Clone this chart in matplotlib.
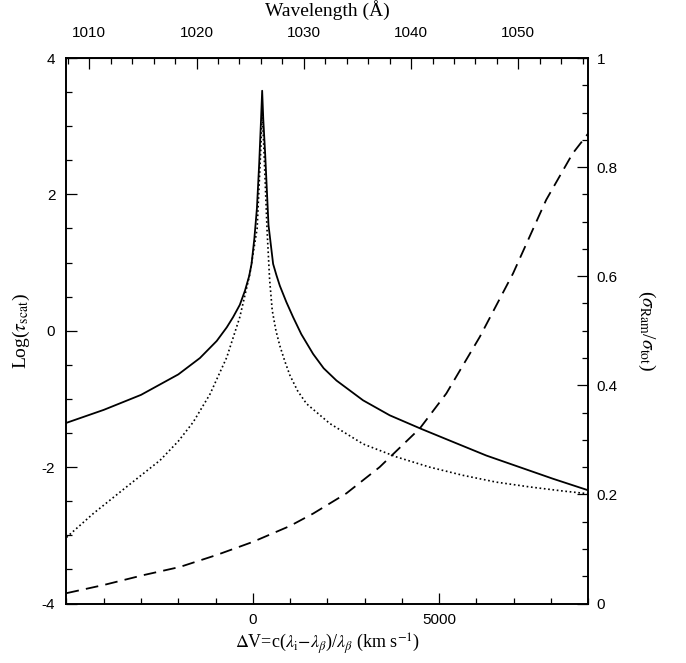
import matplotlib
matplotlib.use("Agg")
import matplotlib.pyplot as plt
import numpy as np
from matplotlib.ticker import MultipleLocator, FixedLocator

plt.rcParams['mathtext.fontset'] = 'stix'

# velocity offset (km/s) and Log(tau_scat) for the solid curve
v_solid = [-5000, -4000, -3000, -2000, -1420, -970, -700, -530, -350,
           -210, -100, -35, 40, 110, 170, 220, 250, 280, 330, 420, 544, 630, 724,
           900, 1080, 1300, 1617, 1900, 2244, 2957, 3673, 4523, 5370, 6265, 7158,
           8051, 9000]
tau_solid = [-1.35, -1.16, -0.94, -0.64, -0.40, -0.15, 0.05, 0.20, 0.38,
             0.59, 0.80, 0.98, 1.35, 1.80, 2.45, 3.10, 3.52, 3.10, 2.60, 1.55, 0.98, 0.82, 0.66,
             0.42, 0.20, -0.05, -0.34, -0.55, -0.73, -1.02, -1.24, -1.44, -1.63, -1.83, -2.00,
             -2.17, -2.34]

# dotted curve
v_dot = [-5000, -4280, -3390, -2490, -2000, -1600, -1150, -700, -350, -80, 115,
         215, 250, 295, 383, 450, 520, 620, 724, 860, 992, 1200, 1440, 2064,
         2957, 3853, 4745, 5638, 6533, 7426, 8319, 9000]
tau_dot = [-3.03, -2.68, -2.29, -1.90, -1.62, -1.34, -0.93, -0.39, 0.20, 0.83, 1.50,
           2.68, 3.20, 2.68, 1.46, 0.75, 0.30, 0.00, -0.22, -0.45, -0.65, -0.88, -1.07, -1.36,
           -1.66, -1.85, -2.00, -2.12, -2.22, -2.29, -2.35, -2.39]

# dashed curve: sigma_Ram / sigma_tot (right axis)
v_ratio = [-5000, -4000, -2940, -1960, -970, 0, 990, 1620, 2510, 3400, 4480,
           5190, 6090, 6980, 7870, 8580, 9000]
ratio = [0.019, 0.034, 0.052, 0.067, 0.089, 0.113, 0.142, 0.165, 0.202, 0.250, 0.321,
         0.385, 0.489, 0.605, 0.740, 0.825, 0.862]

lam0 = 1025.25
dlam = 0.003475  # Angstrom per km/s


def v2lam(v):
    return lam0 + dlam * np.asarray(v)


def lam2v(lam):
    return (np.asarray(lam) - lam0) / dlam


fig = plt.figure(figsize=(6.86, 6.63), dpi=100)
ax = fig.add_axes([0.0969, 0.0897, 0.7607, 0.8228])

ax.plot(v_solid, tau_solid, color='black', lw=1.3)
ax.plot(v_dot, tau_dot, color='black', lw=1.2, linestyle=(0, (1, 1.6)))
ax.set_xlim(-5000, 9000)
ax.set_ylim(-4, 4)

ax2 = ax.twinx()
ax2.plot(v_ratio, ratio, color='black', lw=1.3, linestyle=(0, (7, 4)))
ax2.set_ylim(0, 1)

tick_font = dict(family='Liberation Sans', size=11)
label_font = dict(family='Liberation Serif', size=14)

ax.xaxis.set_major_locator(FixedLocator([0, 5000]))
ax.xaxis.set_minor_locator(MultipleLocator(1000))
ax.yaxis.set_major_locator(MultipleLocator(2))
ax.yaxis.set_minor_locator(MultipleLocator(0.5))
ax2.yaxis.set_minor_locator(MultipleLocator(0.05))
ax2.set_yticks([0, 0.2, 0.4, 0.6, 0.8, 1.0])
ax2.set_yticklabels(['0', '0.2', '0.4', '0.6', '0.8', '1'], **tick_font)

ax.set_xticklabels(['0', '5000'], **tick_font)
ax.set_yticks([-4, -2, 0, 2, 4])
ax.set_yticklabels(['-4', '-2', '0', '2', '4'], **tick_font)

ax.tick_params(axis='both', which='major', direction='in', length=8, width=0.9)
ax.tick_params(axis='both', which='minor', direction='in', length=4, width=0.9)
ax.tick_params(axis='x', pad=7)
ax.tick_params(axis='y', pad=8, left=True, right=False)
ax2.tick_params(axis='y', which='major', direction='in', length=8, width=0.9, pad=6)
ax2.tick_params(axis='y', which='minor', direction='in', length=4, width=0.9)

top = ax.secondary_xaxis('top', functions=(v2lam, lam2v))
top.xaxis.set_minor_locator(MultipleLocator(2))
top.set_xticks([1010, 1020, 1030, 1040, 1050])
top.set_xticklabels(['1010', '1020', '1030', '1040', '1050'], **tick_font)
top.tick_params(which='major', direction='in', length=8, width=0.9, pad=13)
top.tick_params(which='minor', direction='in', length=4, width=0.9)
top.set_xlabel('Wavelength (Å)', labelpad=7, **label_font)

for a in (ax, ax2):
    for s in a.spines.values():
        s.set_linewidth(1.2)

ax.set_xlabel(r'$\Delta$V=c($\lambda_{\rm i}$$-$$\lambda_\beta$)/$\lambda_\beta$ (km s$^{-1}$)',
              labelpad=3, family='Liberation Serif', size=13)
ax.set_ylabel(r'Log($\tau_{\rm scat}$)', labelpad=7, **label_font)
ax2.set_ylabel(r'($\sigma_{\rm Ram}$/$\sigma_{\rm tot}$)', rotation=270, labelpad=28,
               **label_font)

fig.savefig('out.png', dpi=100, facecolor='white')
